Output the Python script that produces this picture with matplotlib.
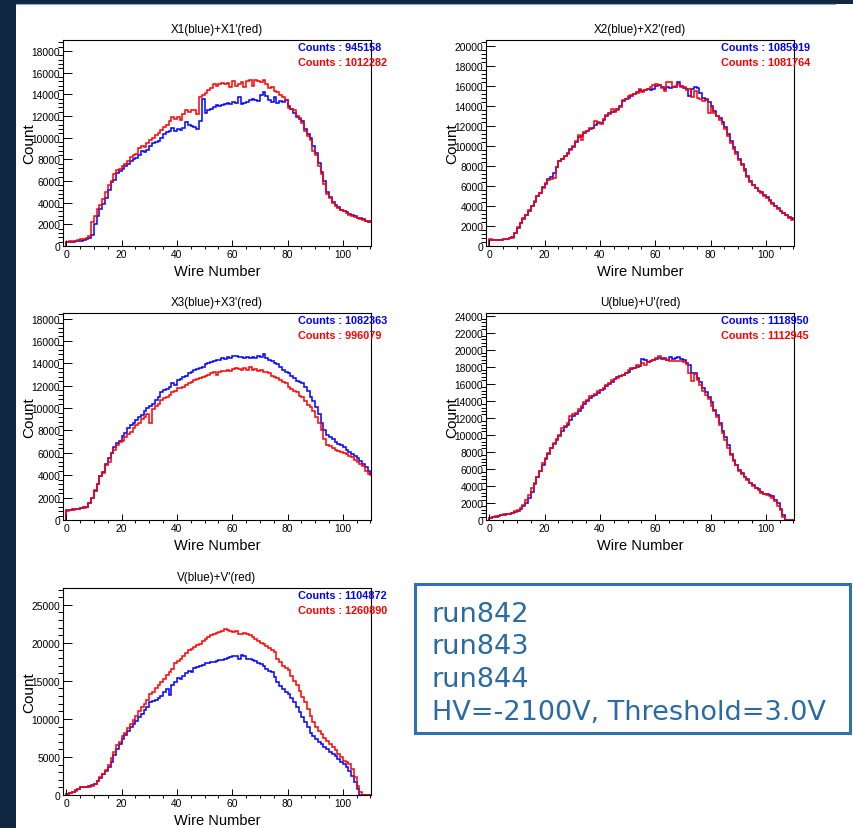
import numpy as np
import matplotlib.pyplot as plt
from matplotlib.patches import Rectangle
from matplotlib.lines import Line2D
from matplotlib.transforms import Bbox
from matplotlib.ticker import MultipleLocator, AutoMinorLocator

plt.rcParams['font.family'] = ['Liberation Sans', 'DejaVu Sans']

W, H = 854, 829

titles = ["X1(blue)+X1'(red)", "X2(blue)+X2'(red)", "X3(blue)+X3'(red)",
          "U(blue)+U'(red)", "V(blue)+V'(red)"]
counts_blue = [945158, 1085919, 1082363, 1118950, 1104872]
counts_red = [1012282, 1081764, 996079, 1112945, 1260890]
info_lines = ["run842", "run843", "run844", "HV=-2100V, Threshold=3.0V"]

# counts per wire 0..110
x1_blue = [350, 380, 400, 430, 470, 500, 560, 650, 750, 1000,
           2000, 2800, 3400, 3900, 4400, 5200, 5900, 6100, 6700, 6900,
           7100, 7400, 7600, 7800, 8000, 8100, 8400, 8800, 8700, 8900,
           9200, 9500, 9600, 9700, 10000, 10300, 10500, 10600, 10900, 10600,
           10800, 10700, 10900, 11400, 11200, 11100, 11000, 10800, 11500, 13600,
           12300, 12500, 12600, 12800, 13000, 12900, 13000, 13100, 13200, 13100,
           13300, 13200, 13700, 13100, 13200, 13300, 13500, 13600, 13500, 13400,
           13900, 14200, 13800, 13500, 13300, 13700, 13200, 13400, 13300, 13500,
           12900, 12600, 12300, 11900, 11700, 11500, 10800, 10300, 10000, 9200,
           8600, 7700, 6800, 6000, 5000, 4500, 4100, 3800, 3600, 3300,
           3200, 3100, 2950, 2850, 2750, 2600, 2550, 2450, 2350, 2250, 2300]
x1_red = [400, 420, 450, 500, 550, 600, 650, 750, 900, 2200,
          2800, 3400, 3800, 4300, 5000, 5600, 6000, 6600, 7000, 7100,
          7400, 7600, 7800, 8200, 8400, 8500, 9000, 9200, 9100, 9500,
          9800, 10000, 10200, 10400, 10700, 11000, 11200, 11500, 11900, 11700,
          11900, 11600, 12200, 12500, 12400, 12500, 12500, 12200, 13700, 13900,
          14100, 14400, 14600, 14900, 14800, 14900, 15000, 14900, 15000, 14700,
          15200, 14800, 14900, 15100, 14700, 15200, 15300, 14800, 15300, 15200,
          15100, 15300, 14900, 14600, 14700, 14300, 14200, 13900, 13700, 13500,
          12700, 12600, 12500, 12000, 11800, 11300, 10600, 10100, 9800, 8800,
          8400, 7400, 6600, 5700, 4800, 4400, 4000, 3700, 3500, 3300,
          3200, 3000, 2900, 2800, 2700, 2600, 2500, 2400, 2300, 2200, 2300]

x2_blue = [650, 600, 600, 650, 650, 700, 750, 800, 900, 1300,
           1800, 2300, 2700, 3100, 3500, 4000, 4400, 5000, 5300, 5900,
           6200, 6700, 6900, 7300, 7900, 8500, 8700, 9000, 9300, 9700,
           9900, 10400, 10900, 11000, 11300, 11500, 11700, 11800, 12100, 12300,
           12300, 12600, 13000, 13300, 13400, 13500, 13700, 14000, 14500, 14700,
           14800, 15000, 15200, 15400, 15600, 15500, 15600, 15700, 15600, 15700,
           16000, 16100, 15900, 15700, 15900, 15800, 15900, 15900, 16400, 16000,
           15800, 15700, 15000, 15700, 15900, 15800, 15300, 14800, 14700, 14400,
           14000, 13500, 13000, 12800, 12400, 11900, 11200, 10500, 9900, 9400,
           8700, 8200, 7700, 7000, 6500, 6100, 5800, 5500, 5400, 5100,
           4900, 4600, 4300, 4000, 3800, 3500, 3300, 3100, 2900, 2800, 2700]
x2_red = [700, 600, 600, 650, 650, 700, 750, 800, 850, 1300,
          1900, 2300, 2800, 3100, 3600, 4000, 4500, 5000, 5300, 5800,
          6300, 6600, 6700, 6800, 7900, 8500, 8700, 9000, 9200, 9600,
          10000, 10500, 11100, 10600, 11400, 11500, 11800, 11800, 12500, 12400,
          12200, 12700, 13100, 13200, 13700, 13400, 13600, 13900, 14600, 14700,
          15000, 15100, 15200, 15300, 15700, 15400, 15600, 15700, 15900, 16100,
          16200, 16100, 15800, 15500, 16400, 16400, 15900, 16000, 16200, 15900,
          15900, 15600, 15700, 14900, 15500, 14800, 14700, 14500, 14600, 13300,
          13900, 13300, 13000, 12600, 12200, 11700, 11000, 10300, 9700, 9200,
          8600, 8100, 7500, 6900, 6400, 6100, 5800, 5500, 5300, 5000,
          4800, 4500, 4200, 4000, 3700, 3500, 3300, 3100, 2800, 2600, 2700]

x3_blue = [900, 900, 950, 1000, 1000, 1100, 1150, 1200, 1500, 2000,
           2600, 3200, 3900, 4300, 5000, 5500, 6000, 6500, 6900, 7100,
           7500, 7800, 8200, 8500, 8700, 8900, 9200, 9400, 9700, 10000,
           10200, 10400, 10700, 11000, 11400, 11600, 11700, 11900, 12200, 12100,
           12500, 12600, 12800, 12900, 13100, 13200, 13400, 13500, 13600, 13700,
           13900, 14000, 14100, 14200, 14300, 14300, 14500, 14400, 14600, 14500,
           14700, 14700, 14600, 14600, 14500, 14600, 14500, 14600, 14500, 14700,
           14600, 14800, 14500, 14300, 14200, 14000, 13900, 13700, 13400, 13200,
           13100, 12900, 12700, 12400, 12300, 12200, 11900, 11500, 11000, 10600,
           10100, 9500, 8700, 8000, 7600, 7400, 7200, 7000, 6800, 6700,
           6500, 6300, 6100, 5900, 5700, 5500, 5300, 5000, 4700, 4400, 4100]
x3_red = [800, 850, 900, 950, 1000, 1050, 1100, 1200, 1500, 2000,
          2700, 3200, 3900, 4200, 4900, 5200, 6000, 6300, 6700, 7000,
          7100, 7400, 7700, 7900, 8200, 8500, 8700, 9000, 9200, 9500,
          8700, 9900, 10200, 10400, 10700, 10900, 11000, 11200, 11400, 11500,
          11800, 11800, 11900, 12100, 12200, 12300, 12500, 12600, 12700, 12800,
          12900, 13000, 13100, 13200, 13000, 13200, 13300, 13300, 13400, 13300,
          13500, 13600, 13500, 13400, 13600, 13400, 13700, 13400, 13500, 13300,
          13400, 13200, 13200, 13100, 12900, 12800, 12700, 12500, 12300, 12200,
          11900, 11700, 11500, 11400, 11100, 11000, 10600, 10300, 10100, 9700,
          9200, 8700, 8000, 7200, 6700, 6600, 6400, 6300, 6200, 6100,
          6000, 5900, 5700, 5600, 5400, 5200, 5000, 4800, 4400, 4100, 4000]

u_blue = [200, 300, 400, 500, 550, 600, 650, 700, 800, 900,
          1100, 1300, 1600, 2000, 2600, 3300, 4200, 5000, 5700, 6500,
          7200, 7800, 8400, 8900, 9400, 9900, 10400, 10900, 11200, 11700,
          12200, 12500, 12800, 13200, 13600, 14000, 14300, 14500, 14700, 14900,
          15300, 15400, 15700, 16000, 16200, 16500, 16800, 16900, 17000, 17200,
          17400, 17700, 17800, 18000, 18100, 18900, 18800, 18600, 18700, 18800,
          18900, 19000, 18900, 19000, 18800, 19100, 18900, 19000, 19100, 18900,
          18800, 18400, 18200, 17300, 17200, 16700, 16200, 15500, 15000, 14400,
          13800, 12900, 12300, 11400, 10500, 9700, 8800, 7800, 7000, 6500,
          5900, 5500, 5100, 4800, 4400, 4100, 3800, 3600, 3300, 3100,
          3000, 2900, 2800, 2400, 2000, 1300, 600, 0, 0, 0, 0]
u_red = [200, 350, 450, 500, 600, 650, 700, 700, 800, 1000,
         1200, 1400, 1800, 2300, 2900, 3800, 4300, 5100, 5800, 6700,
         7300, 7900, 8400, 9000, 9500, 10000, 10800, 11000, 11400, 12200,
         12400, 12600, 13000, 13400, 13800, 14100, 14500, 14500, 14800, 15100,
         15300, 15500, 15800, 16100, 16400, 16600, 16700, 16900, 17000, 17300,
         17600, 17800, 17900, 18200, 18100, 18400, 18200, 18500, 18700, 18800,
         19000, 19300, 19000, 18900, 18800, 18700, 18700, 18700, 18700, 18700,
         18600, 18300, 17200, 16300, 17100, 16400, 15800, 15100, 14700, 14200,
         13400, 12800, 12100, 11200, 10200, 9400, 8500, 7600, 6900, 6400,
         5800, 5400, 5000, 4700, 4300, 4000, 3700, 3500, 3200, 3100,
         2900, 2800, 2600, 2200, 1700, 1200, 300, 0, 0, 0, 0]

v_blue = [100, 200, 400, 600, 800, 1000, 1100, 1100, 1200, 1300,
          1500, 1800, 2200, 2700, 3200, 3700, 4400, 5200, 6000, 6700,
          7400, 7900, 8400, 8900, 9300, 9700, 10200, 10700, 11200, 11600,
          12200, 12400, 12500, 12700, 13000, 13500, 13900, 13100, 14400, 14800,
          15400, 15300, 15600, 16000, 16300, 16200, 16700, 16800, 16900, 17100,
          17400, 17400, 17500, 17500, 17600, 17700, 17800, 17900, 18000, 18100,
          18300, 18200, 17900, 18400, 18300, 17900, 17900, 17800, 17600, 17400,
          17200, 16900, 16600, 16300, 16100, 15500, 14800, 14300, 13900, 13600,
          13300, 12800, 12200, 11600, 10900, 10200, 9600, 8900, 8200, 7800,
          7400, 7000, 6700, 6300, 6050, 5700, 5400, 5100, 4700, 4400,
          4100, 3700, 3200, 2500, 1700, 800, 0, 0, 0, 0, 0]
v_red = [100, 300, 400, 500, 800, 1000, 1000, 1100, 1100, 1200,
         1500, 1900, 2300, 2800, 3300, 4000, 4800, 5700, 6600, 7000,
         7700, 8200, 8800, 9300, 9900, 10400, 11000, 11500, 12000, 12500,
         13300, 13600, 14000, 14400, 14800, 15300, 15800, 16100, 16600, 17300,
         17600, 17900, 18300, 18600, 19000, 19200, 19400, 19700, 19900, 20200,
         20500, 20800, 21000, 21200, 21300, 21400, 21600, 21800, 21700, 21600,
         21400, 21600, 21100, 21100, 21300, 21200, 21000, 20800, 20500, 20200,
         20000, 19800, 19600, 19300, 19000, 18800, 17900, 17500, 17000, 16700,
         16400, 15700, 15000, 14400, 13700, 12900, 12200, 11300, 10400, 9600,
         8900, 8400, 8000, 7500, 7100, 6700, 6300, 5900, 5400, 5000,
         4500, 4300, 4100, 3400, 2300, 1200, 350, 0, 0, 0, 0]

blues = [x1_blue, x2_blue, x3_blue, u_blue, v_blue]
reds = [x1_red, x2_red, x3_red, u_red, v_red]
ymaxs = [19000, 20600, 18500, 24300, 27200]
ysteps = [2000, 2000, 2000, 2000, 5000]

# panel frames in pixels: left, top, right, bottom
frames = [(63, 41, 371, 247), (486, 41, 794, 247),
          (63, 314, 371, 521), (486, 314, 794, 521),
          (63, 589, 371, 796)]


def fx(x):
    return x / W


def fy(y):
    return 1 - y / H


fig = plt.figure(figsize=(W / 100, H / 100), dpi=100, facecolor='#0f2741')
fig.patches.append(Rectangle((fx(16), 0), 1 - fx(16), fy(5), transform=fig.transFigure,
                             facecolor='white', edgecolor='none', zorder=-5))
fig.lines.append(Line2D([fx(16), fx(835)], [fy(4.5), fy(4.5)], transform=fig.transFigure,
                        color='#7fa9d3', lw=0.8))

for i in range(5):
    l, t, r, b = frames[i]
    ax = fig.add_axes([fx(l), fy(b), (r - l) / W, (b - t) / H])
    edges = np.arange(len(blues[i]) + 1)
    ax.stairs(blues[i], edges, color='#0000ff', lw=1.1)
    ax.stairs(reds[i], edges, color='#ff0000', lw=1.1)
    ax.set_xlim(-1.2, 110.2)
    ax.set_ylim(0, ymaxs[i])
    ax.xaxis.set_major_locator(MultipleLocator(20))
    ax.xaxis.set_minor_locator(MultipleLocator(5))
    ax.yaxis.set_major_locator(MultipleLocator(ysteps[i]))
    ax.yaxis.set_minor_locator(AutoMinorLocator(5))
    ax.tick_params(direction='in', top=False, right=False, labelsize=7.4, width=0.7)
    ax.tick_params(axis='x', which='major', length=4.5, pad=2.5)
    ax.tick_params(axis='x', which='minor', length=2.3, width=0.7)
    ax.tick_params(axis='y', which='major', length=6.8, pad=2)
    ax.tick_params(axis='y', which='minor', length=3.4, width=0.7)
    for s in ax.spines.values():
        s.set_linewidth(0.8)

    cx = (l + r) / 2
    fig.text(fx(cx), fy(t - 11), titles[i], ha='center', va='center', fontsize=8.4)
    fig.text(fx(l + 235), fy(t + 10), 'Counts : %d' % counts_blue[i], color='#0000ff',
             fontsize=7.8, fontweight='bold', ha='left', va='baseline')
    fig.text(fx(l + 235), fy(t + 25.5), 'Counts : %d' % counts_red[i], color='#ff0000',
             fontsize=7.8, fontweight='bold', ha='left', va='baseline')
    fig.text(fx(l - 34), fy((t + b) / 2), 'Count', rotation=90, ha='center', va='center',
             fontsize=11)
    xl = fig.text(fx(cx), fy(b + 25.5), 'Wire Number', ha='center', va='center', fontsize=10.5)
    if i in (2, 3):
        # screenshot crops these labels
        xl.set_clip_box(Bbox.from_extents(0, H - 552, W, H))
        xl.set_clip_on(True)

# info box
fig.patches.append(Rectangle((fx(415), fy(734)), (850 - 415) / W, (734 - 585) / H,
                             transform=fig.transFigure, facecolor='white',
                             edgecolor='#2e72b0', lw=2.2))
for k, line in enumerate(info_lines):
    fig.text(fx(432), fy(621.5 + 32.8 * k), line, color='#2b6aa3', fontsize=19.5,
             family='DejaVu Sans', ha='left', va='baseline')

fig.savefig('out.png', dpi=100, facecolor=fig.get_facecolor())
